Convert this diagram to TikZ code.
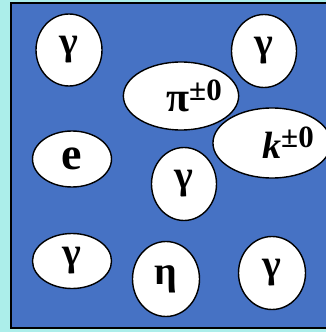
\documentclass[tikz,border=0pt]{standalone}
\usepackage{fontspec}
\setmainfont{Liberation Serif}
\usepackage{xcolor}
\usepackage{tikz}
\usetikzlibrary{shapes.geometric}
\definecolor{edgecyan}{RGB}{172,238,234}
\definecolor{boxblue}{RGB}{70,114,196}
\newcommand{\chg}[1]{\raisebox{11pt}{\fontsize{31}{31}\selectfont #1}}

\begin{document}
\begin{tikzpicture}[
    x=1pt, y=-1pt,
    particle/.style={ellipse, draw=black, line width=1.4pt, fill=white, inner sep=0pt,
      font=\bfseries\fontsize{40}{40}\selectfont}
]
\useasboundingbox (0,0) rectangle (326,332);
\fill[edgecyan] (0,0) rectangle (326,332);
\draw[fill=boxblue, line width=1.3pt] (11,3) rectangle (332,328);

\node[particle, minimum width=66, minimum height=72] (gamma1) at (69,50) {\raisebox{-13pt}{γ}};
\node[particle, minimum width=65, minimum height=73] (gamma2) at (264,51) {\raisebox{-13pt}{γ}};
\node[particle, minimum width=102, minimum height=68] (pion) at (181,96)
    {\hspace*{26pt}\raisebox{-16pt}{\fontsize{42}{42}\selectfont π\chg{±0}}};
\node[particle, minimum width=100, minimum height=70] (kaon) at (272,143)
    {\hspace*{32pt}\raisebox{-7pt}{\fontsize{38}{38}\selectfont\itshape k\upshape\chg{±0}}};
\node[particle, minimum width=79, minimum height=56] (elec) at (72,159) {\raisebox{-2pt}{\fontsize{46}{46}\selectfont e}};
\node[particle, minimum width=65, minimum height=73] (gamma3) at (184,184) {\raisebox{-13pt}{γ}};
\node[particle, minimum width=79, minimum height=55] (gamma4) at (72,261) {γ};
\node[particle, minimum width=67, minimum height=75] (eta) at (166,279) {\raisebox{-13pt}{η}};
\node[particle, minimum width=67, minimum height=73] (gamma5) at (272,273) {\raisebox{-11pt}{γ}};
\end{tikzpicture}
\end{document}
